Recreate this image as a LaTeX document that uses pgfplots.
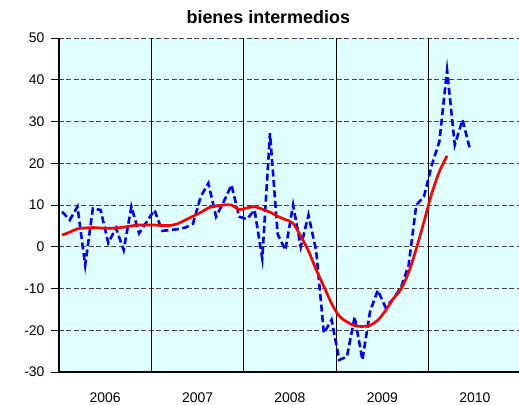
\documentclass[border=0pt]{standalone}
\usepackage{pgfplots}
\pgfplotsset{compat=1.18}
\usepackage{fontspec}
\setmainfont{Liberation Sans}
\definecolor{bgc}{RGB}{224,255,255}
\definecolor{gridc}{RGB}{70,70,70}
\begin{document}
\begin{tikzpicture}
\path[use as bounding box] (-59bp,-33bp) rectangle (460bp,372bp);
\begin{axis}[
  at={(0,0)}, anchor=south west,
  scale only axis, width=462bp, height=334bp,
  xmin=0, xmax=60, ymin=-30, ymax=50,
  axis x line*=bottom, axis y line*=left,
  axis line style={black, line width=1.3bp},
  axis background/.style={fill=bgc},
  ytick={-30,-20,...,50},
  ymajorgrids,
  major grid style={gridc, line width=1bp, dash pattern=on 5bp off 2.5bp},
  xtick={6,18,30,42,54},
  xticklabels={2006,2007,2008,2009,2010},
  x tick style={draw=none},
  y tick style={black, line width=1bp},
  tick align=outside, major tick length=8bp,
  extra x ticks={12,24,36,48},
  extra x tick labels={},
  extra x tick style={xmajorgrids=true, major grid style={solid, black, line width=0.9bp}, major tick length=0pt},
  ticklabel style={font=\fontsize{14}{16}\selectfont},
  /pgf/number format/assume math mode=true,
  yticklabel style={xshift=-3bp},
  xticklabel style={yshift=-9bp},
  title={bienes intermedios},
  title style={at={(0.453,1)}, anchor=south, yshift=5bp, font=\bfseries\fontsize{18}{21}\selectfont},
  clip=false,
]
\addplot[blue, line width=2.6bp, dash pattern=on 7bp off 3.5bp] coordinates {
(0.4,8.4)(1.4,6.4)(2.4,9.6)(3.4,-4.4)(4.4,9.2)(5.4,8.8)(6.4,0.9)(7.4,4.5)(8.4,-0.8)(9.4,9.6)(10.4,3.2)(11.4,6.0)
(12.4,8.8)(13.4,3.8)(14.4,4.0)(15.4,4.2)(16.4,4.6)(17.4,5.5)(18.4,12)(19.4,15.2)(20.4,7.2)(21.4,10.8)(22.4,14.8)(23.4,7.2)
(24.4,6.6)(25.4,8.8)(26.4,-2.8)(27.4,27.2)(28.4,3)(29.4,-0.8)(30.4,10)(31.4,0)(32.4,7.6)(33.4,-1)(34.4,-20.7)(35.4,-17.5)
(36.4,-27.1)(37.4,-26.3)(38.4,-16.8)(39.4,-27.1)(40.4,-15.5)(41.4,-10.4)(42.4,-14.5)(43.4,-12.5)(44.4,-9.8)(45.4,-4.5)(46.4,10)(47.4,12)
(48.4,19.5)(49.4,25.2)(50.4,42.3)(51.4,24.4)(52.4,30.4)(53.4,23.2)
};
\addplot[red, line width=2.7bp, smooth] coordinates {
(0.4,2.8)(1.4,3.5)(2.4,4.3)(3.4,4.5)(4.4,4.6)(5.4,4.5)(6.4,4.4)(7.4,4.5)(8.4,4.7)(9.4,5.0)(10.4,5.2)(11.4,5.2)
(12.4,5.2)(13.4,5.1)(14.4,5.1)(15.4,5.5)(16.4,6.4)(17.4,7.3)(18.4,8.2)(19.4,9.3)(20.4,9.8)(21.4,10)(22.4,10)(23.4,8.9)
(24.4,9.3)(25.4,9.6)(26.4,9.0)(27.4,8.3)(28.4,7.3)(29.4,6.5)(30.4,5.6)(31.4,2.5)(32.4,-1)(33.4,-5.5)(34.4,-9.5)(35.4,-13.6)
(36.4,-16.6)(37.4,-18)(38.4,-18.9)(39.4,-19.1)(40.4,-18.8)(41.4,-17.6)(42.4,-15.3)(43.4,-12.5)(44.4,-10.2)(45.4,-6.2)(46.4,-0.5)(47.4,6)
(48.4,12.7)(49.4,18)(50.4,21.8)
};
\end{axis}
\end{tikzpicture}
\end{document}
